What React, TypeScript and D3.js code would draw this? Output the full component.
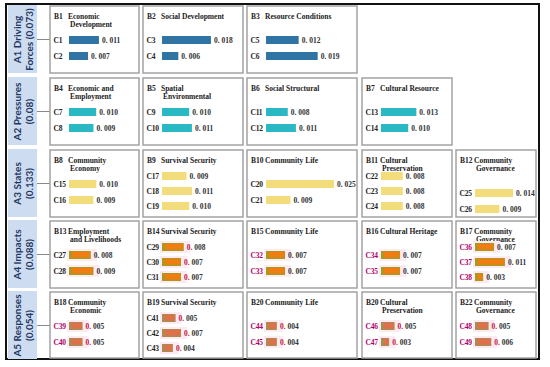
import React from 'react';
import * as d3 from 'd3';

// top level dimensions (A)
const dimLine1 = ['A1 Driving', 'A2 Pressures', 'A3 States', 'A4 Impacts', 'A5 Responses'];
const dimLine2 = ['Forces (0.073)', '(0.08)', '(0.133)', '(0.088)', '(0.054)'];

// criteria (B)
const groupCodes = ['B1', 'B2', 'B3', 'B4', 'B5', 'B6', 'B7', 'B8', 'B9', 'B10', 'B11', 'B12',
  'B13', 'B14', 'B15', 'B16', 'B17', 'B18', 'B19', 'B20', 'B20', 'B22'];
const groupTitles = [
  ['Economic', 'Development'], ['Social Development'], ['Resource Conditions'],
  ['Economic and', 'Employment'], ['Spatial', 'Environmental'], ['Social Structural'], ['Cultural Resource'],
  ['Community', 'Economy'], ['Survival Security'], ['Community Life'], ['Cultural', 'Preservation'], ['Community', 'Governance'],
  ['Employment', 'and Livelihoods'], ['Survival Security'], ['Community Life'], ['Cultural Heritage'], ['Community', 'Governance'],
  ['Community', 'Economic'], ['Survival Security'], ['Community Life'], ['Cultural', 'Preservation'], ['Community', 'Governance'],
];
const groupDim = [0, 0, 0, 1, 1, 1, 1, 2, 2, 2, 2, 2, 3, 3, 3, 3, 3, 4, 4, 4, 4, 4];
const groupCol = [0, 1, 2, 0, 1, 2, 3, 0, 1, 2, 3, 4, 0, 1, 2, 3, 4, 0, 1, 2, 3, 4];

// indicators (C)
const indCodes = d3.range(1, 50).map(i => `C${i}`);
const indValues = [
  0.011, 0.007, 0.018, 0.006, 0.012, 0.019,
  0.010, 0.009, 0.010, 0.011, 0.008, 0.011, 0.013, 0.010,
  0.010, 0.009, 0.009, 0.011, 0.010, 0.025, 0.009, 0.008, 0.008, 0.008, 0.014, 0.009,
  0.008, 0.009, 0.008, 0.007, 0.007, 0.007, 0.007, 0.007, 0.007, 0.007, 0.011, 0.003,
  0.005, 0.005, 0.005, 0.007, 0.004, 0.004, 0.004, 0.005, 0.003, 0.005, 0.006,
];
const indGroup = [
  0, 0, 1, 1, 2, 2,
  3, 3, 4, 4, 5, 5, 6, 6,
  7, 7, 8, 8, 8, 9, 9, 10, 10, 10, 11, 11,
  12, 12, 13, 13, 13, 14, 14, 15, 15, 16, 16, 16,
  17, 17, 18, 18, 18, 19, 19, 20, 20, 21, 21,
];

// accents seen in the lower two rows
const labelAccent = [14, 15, 16, 17, 19, 20, 21];
const valueAccent = [13, 17, 18, 19, 20, 21];

const rowTop = [6, 78, 150, 221, 292];
const rowH = 67;
const colX = [50, 143, 247, 362, 456];
const colW = [89, 100, 110, 90, 80];

const barFill = ['#2f74a3', '#2bb8c5', '#f3dc7c', '#a99a1c', '#ad8a4e'];
const barInner = [null, null, null, '#f07c12', '#e0704c'];

const x = d3.scaleLinear().domain([0, 0.025]).range([0, 68]);
const fmt = (v: number) => '0. ' + d3.format('.3f')(v).slice(2);

const serif = '"Liberation Serif", "DejaVu Serif", serif';

export default function App() {
  return (
    <svg width={550} height={367} style={{ position: 'absolute', left: 0, top: 0, background: '#fff' }}>
      <rect x={6} y={4} width={533} height={355} fill="#fff" stroke="#111" strokeWidth={2} />
      {dimLine1.map((d, i) => {
        const cy = rowTop[i] + rowH / 2;
        return (
          <g key={d}>
            <rect x={8} y={rowTop[i] - 1} width={29} height={rowH + 1} fill="#cddcf0" />
            <line x1={37} x2={50} y1={cy} y2={cy} stroke="#8a8a8a" strokeWidth={1} />
            <g fontFamily="Lato, 'Open Sans', sans-serif" fontWeight={700} fontSize={10} fill="#1f3864" textAnchor="middle">
              <text transform={`translate(${17},${cy}) rotate(-90)`} dy="0.35em">{d}</text>
              <text transform={`translate(${29},${cy}) rotate(-90)`} dy="0.35em">{dimLine2[i]}</text>
            </g>
          </g>
        );
      })}
      {groupCodes.map((code, g) => {
        const row = groupDim[g];
        const bx = colX[groupCol[g]];
        const by = rowTop[row];
        const items = indCodes.map((c, i) => i).filter(i => indGroup[i] === g);
        const two = groupTitles[g].length > 1;
        const yPos = d3.scalePoint<number>()
          .domain(items)
          .range(items.length === 3 ? [26, 56] : (g === 11 ? [43, 59] : [34, 50]));
        return (
          <g key={g} transform={`translate(${bx},${by})`}>
            <rect x={0} y={0} width={colW[groupCol[g]]} height={rowH - (row === 4 ? 1 : 0)} fill="#fff" stroke="#a3a3a3" strokeWidth={1.5} />
            <g fontFamily={serif} fontWeight={700} fontSize={7.5} fill="#222">
              <text x={4} y={13}>{code}</text>
              <text x={18} y={13}>{groupTitles[g][0]}</text>
              {two && <text x={20} y={20.5}>{groupTitles[g][1]}</text>}
            </g>
            {items.map(i => {
              const cy = yPos(i) as number;
              const w = x(indValues[i]);
              const bh = 8;
              const inner = barInner[row];
              return (
                <g key={i} fontFamily={serif} fontWeight={700} fontSize={7.5}>
                  {inner && (
                    <rect x={17} y={cy - bh / 2 - 2} width={w + 8} height={bh + 4} fill="#feeaf4" />
                  )}
                  <text x={3.5} y={cy} dy="0.35em" letterSpacing={-0.2} fill={labelAccent.includes(g) ? '#b0006a' : '#222'}>{indCodes[i]}</text>
                  <rect x={19} y={cy - bh / 2} width={w} height={bh} fill={barFill[row]} />
                  {inner && (
                    <rect x={22} y={cy - bh / 2 + 1} width={Math.max(w - 4, 1)} height={bh - 2.5} fill={inner} />
                  )}
                  <text x={19 + w + 3} y={cy} dy="0.35em" fill="#333">
                    <tspan fill={valueAccent.includes(g) ? '#c0143c' : '#333'}>{fmt(indValues[i]).slice(0, 2)}</tspan>
                    {fmt(indValues[i]).slice(2)}
                  </text>
                </g>
              );
            })}
          </g>
        );
      })}
    </svg>
  );
}
